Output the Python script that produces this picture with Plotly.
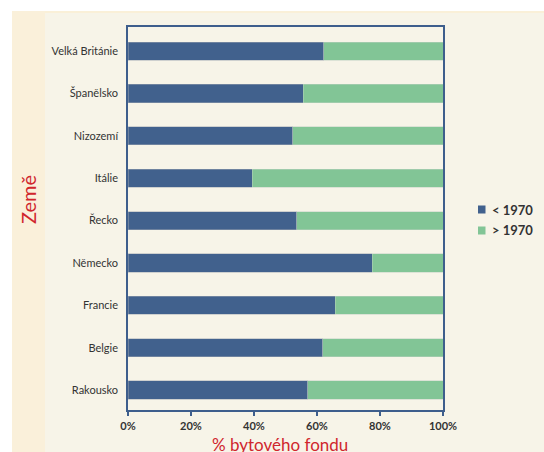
import plotly.graph_objects as go

countries = ["Rakousko", "Belgie", "Francie", "Německo", "Řecko", "Itálie", "Nizozemí", "Španělsko", "Velká Británie"]
before_1970 = [57.1, 61.8, 65.8, 77.5, 53.5, 39.5, 52.3, 55.7, 62.2]
after_1970 = [round(100 - v, 1) for v in before_1970]
series_names = ["< 1970", "> 1970"]
x_ticks = [0, 20, 40, 60, 80, 100]
x_tick_labels = ["0%", "20%", "40%", "60%", "80%", "100%"]

BLUE = "#41618D"
GREEN = "#82C596"
FRAME = "#3E5E8C"
RED = "#D0262D"
colors = [BLUE, GREEN]

fig = go.Figure()
fig.add_trace(go.Bar(y=countries, x=before_1970, orientation="h", name=series_names[0],
                     marker=dict(color=BLUE, line=dict(color="rgba(160,170,180,0.6)", width=0.8))))
fig.add_trace(go.Bar(y=countries, x=after_1970, orientation="h", name=series_names[1],
                     marker=dict(color=GREEN, line=dict(color="rgba(190,210,195,0.6)", width=0.8))))

W, H = 544, 452
L, R, T, B = 128, 101, 27, 42
pw, ph = W - L - R, H - T - B

def px(x):
    return (x - L) / pw

def py(y):
    return (H - B - y) / ph

shapes = [
    dict(type="rect", xref="paper", yref="paper", x0=px(12), x1=px(544), y0=py(452), y1=py(11),
         fillcolor="#F7F4E8", line=dict(width=0), layer="below"),
    dict(type="rect", xref="paper", yref="paper", x0=px(12), x1=px(544), y0=py(13), y1=py(11),
         fillcolor="#FAF0D8", line=dict(width=0), layer="below"),
    dict(type="rect", xref="paper", yref="paper", x0=px(12), x1=px(45), y0=py(452), y1=py(11),
         fillcolor="#FAF0DA", line=dict(width=0), layer="below"),
]

annotations = [
    dict(text="Země", xref="paper", yref="paper", x=px(28), y=py(200), textangle=-90,
         showarrow=False, font=dict(size=20, color=RED), xanchor="center", yanchor="middle"),
    dict(text="% bytového fondu", xref="paper", yref="paper", x=px(280), y=py(444),
         showarrow=False, font=dict(size=17, color=RED), xanchor="center", yanchor="middle"),
]

# custom legend (small squares close to bold labels, as in the reference)
for i, (name, col) in enumerate(zip(series_names, colors)):
    cy = 209.5 + i * 21
    shapes.append(dict(type="rect", xref="paper", yref="paper",
                       x0=px(478), x1=px(485.5), y0=py(cy + 4), y1=py(cy - 4),
                       fillcolor=col, line=dict(width=0)))
    annotations.append(dict(text="<b>%s</b>" % name, xref="paper", yref="paper",
                            x=px(490), y=py(cy), xanchor="left", yanchor="middle",
                            showarrow=False, font=dict(size=13, color="#333333")))

fig.update_layout(
    width=W, height=H,
    margin=dict(l=L, r=R, t=T, b=B, pad=0, autoexpand=False),
    paper_bgcolor="white",
    plot_bgcolor="#F8F5EA",
    barmode="stack",
    bargap=0.57,
    shapes=shapes,
    font=dict(family="Lato, sans-serif", color="#333333", size=11),
    showlegend=False,
    xaxis=dict(range=[0, 100], tickvals=x_ticks, ticktext=["<b>%s</b>" % t for t in x_tick_labels],
               showgrid=False, zeroline=False, showline=True, linecolor=FRAME, linewidth=1.5,
               mirror=True, ticks="outside", ticklen=4, tickcolor=FRAME, tickwidth=1.5,
               ticklabelstandoff=1,
               automargin=False, tickfont=dict(size=11, color="#333333")),
    yaxis=dict(range=[-0.47, 8.57], showgrid=False, zeroline=False, showline=True,
               linecolor=FRAME, linewidth=1.5, mirror=True, ticks="", ticklabelstandoff=6,
               automargin=False, tickfont=dict(size=11, color="#333333")),
    annotations=annotations,
)

fig.write_html("out.html", config={"displayModeBar": False},
               post_script="document.body.style.margin='0';document.body.style.overflow='hidden';")
